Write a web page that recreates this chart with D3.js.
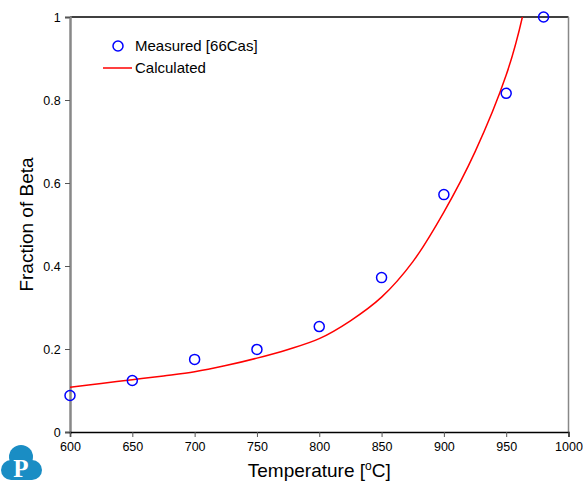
<!DOCTYPE html>
<html>
<head>
<meta charset="utf-8">
<script src="https://cdn.jsdelivr.net/npm/d3@7"></script>
<style>
  body { margin: 0; background: #fff; }
  text { font-family: "Liberation Sans", Arial, sans-serif; }
</style>
</head>
<body>
<div id="main"></div>
<script>
// measured data [66Cas]
var measTemp = [600, 650, 700, 750, 800, 850, 900, 950, 980];
var measFrac = [0.088, 0.124, 0.175, 0.199, 0.254, 0.372, 0.572, 0.816, 1.0];

// calculated curve
var calcTemp = [600, 625, 650, 675, 700, 725, 750, 775, 800, 825, 850, 875, 900, 925, 950, 963, 975];
var calcFrac = [0.108, 0.117, 0.126, 0.135, 0.145, 0.160, 0.178, 0.199, 0.225, 0.268, 0.325, 0.41, 0.53, 0.675, 0.86, 1.0, 1.2];

var xTicks = [600, 650, 700, 750, 800, 850, 900, 950, 1000];
var yTicks = [0, 0.2, 0.4, 0.6, 0.8, 1];

var w = 583, h = 482;
var margin = { top: 17, left: 70, right: 14, bottom: 50 };

var svg = d3.select("#main").append("svg")
	.attr("width", w)
	.attr("height", h);

var x = d3.scaleLinear().domain([600, 1000]).range([margin.left, w - margin.right - 0.5]);
var y = d3.scaleLinear().domain([0, 1]).range([h - margin.bottom, margin.top]);

svg.append("clipPath").attr("id", "clip")
	.append("rect")
	.attr("x", x(600)).attr("y", y(1))
	.attr("width", x(1000) - x(600)).attr("height", y(0) - y(1));

// frame: top and bottom black, left and right grey
svg.append("line").attr("x1", x(600)).attr("x2", x(1000)).attr("y1", y(1)).attr("y2", y(1))
	.attr("stroke", "#000").attr("stroke-width", 1.5);
svg.append("line").attr("x1", x(1000)).attr("x2", x(1000)).attr("y1", y(1)).attr("y2", y(0))
	.attr("stroke", "#888").attr("stroke-width", 1.5);

// bottom axis
var xAxis = d3.axisBottom(x).tickValues(xTicks).tickSize(5).tickFormat(d3.format("d"));
var gx = svg.append("g").attr("transform", "translate(0," + y(0) + ")").call(xAxis);
gx.select(".domain").attr("stroke", "#000").attr("stroke-width", 1.5);
gx.selectAll(".tick line").attr("stroke", "#555");
gx.selectAll(".tick text").attr("font-size", 12.5).attr("fill", "#000").attr("dy", "0.9em")
	.style("font-family", "Liberation Sans, Arial, sans-serif");

// left axis
var yAxis = d3.axisLeft(y).tickValues(yTicks).tickSize(5).tickFormat(function(d) { return d3.format("~g")(d) });
var gy = svg.append("g").attr("transform", "translate(" + x(600) + ",0)").call(yAxis);
gy.select(".domain").attr("stroke", "#888").attr("stroke-width", 2.5);
gy.selectAll(".tick line").attr("stroke", "#555");
gy.selectAll(".tick text").attr("font-size", 12.5).attr("fill", "#000").attr("dx", "-0.1em")
	.style("font-family", "Liberation Sans, Arial, sans-serif");
// redraw bottom domain on top of the left one
gx.raise();

// calculated curve
var line = d3.line()
	.x(function(d) { return x(d[0]) })
	.y(function(d) { return y(d[1]) })
	.curve(d3.curveCatmullRom);

svg.append("path")
	.datum(calcTemp.map(function(t, i) { return [t, calcFrac[i]] }))
	.attr("clip-path", "url(#clip)")
	.attr("d", line)
	.attr("fill", "none")
	.attr("stroke", "#f00")
	.attr("stroke-width", 1.5);

// measured points
svg.selectAll(".meas")
	.data(measTemp.map(function(t, i) { return [t, measFrac[i]] }))
	.enter().append("circle")
	.attr("class", "meas")
	.attr("cx", function(d) { return x(d[0]) })
	.attr("cy", function(d) { return y(d[1]) })
	.attr("r", 5)
	.attr("fill", "none")
	.attr("stroke", "#00f")
	.attr("stroke-width", 1.5);

// legend
svg.append("circle").attr("cx", 118).attr("cy", 46).attr("r", 5)
	.attr("fill", "none").attr("stroke", "#00f").attr("stroke-width", 1.5);
svg.append("text").attr("x", 135).attr("y", 51).attr("font-size", 15).text("Measured [66Cas]");
svg.append("line").attr("x1", 103).attr("x2", 132).attr("y1", 68).attr("y2", 68)
	.attr("stroke", "#f00").attr("stroke-width", 1.5);
svg.append("text").attr("x", 135).attr("y", 73).attr("font-size", 15).text("Calculated");

// axis titles
var xt = svg.append("text").attr("x", (x(600) + x(1000)) / 2).attr("y", 477)
	.attr("text-anchor", "middle").attr("font-size", 19);
xt.append("tspan").text("Temperature [");
xt.append("tspan").attr("font-size", 12).attr("dy", -7).text("o");
xt.append("tspan").attr("dy", 7).text("C]");

svg.append("text")
	.attr("transform", "translate(33," + ((y(0) + y(1)) / 2) + ") rotate(-90)")
	.attr("text-anchor", "middle").attr("font-size", 19)
	.text("Fraction of Beta");

// logo
var logo = svg.append("g").attr("fill", "#1a8dc4");
logo.append("circle").attr("cx", 21).attr("cy", 457).attr("r", 12);
logo.append("circle").attr("cx", 11).attr("cy", 470).attr("r", 10);
logo.append("circle").attr("cx", 32).attr("cy", 470).attr("r", 10);
logo.append("rect").attr("x", 11).attr("y", 460).attr("width", 21).attr("height", 20);
svg.append("text").attr("x", 21).attr("y", 477).attr("text-anchor", "middle")
	.attr("font-size", 25).attr("font-weight", "bold").attr("fill", "#fff")
	.style("font-family", "Liberation Serif, serif").text("P");
</script>
</body>
</html>
